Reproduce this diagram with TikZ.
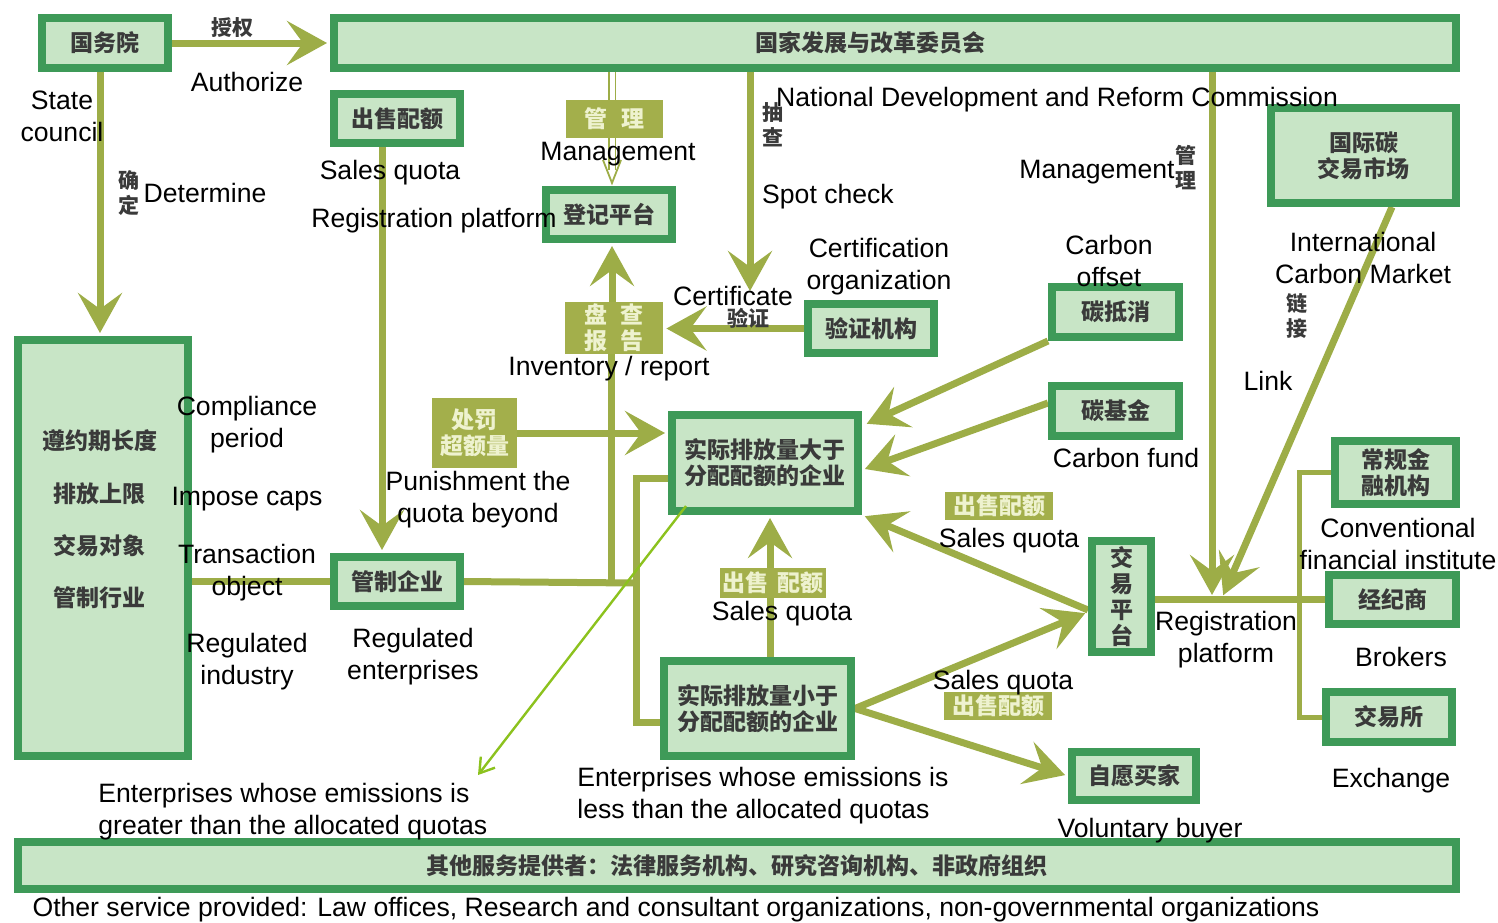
\documentclass[tikz,border=0pt]{standalone}
\usepackage{fontspec}
\setmainfont{Liberation Sans}
\newfontfamily\cjk{Noto Sans CJK SC}
\usetikzlibrary{arrows.meta}
\pgfdeclarelayer{background}
\pgfsetlayers{background,main}
\definecolor{dkgreen}{HTML}{3E9A58}
\definecolor{ltgreen}{HTML}{C8E5C6}
\definecolor{olive}{HTML}{9DAD47}
\definecolor{olivebox}{HTML}{A3AF4B}
\definecolor{paletext}{HTML}{EEF2CF}
\definecolor{limeline}{HTML}{8CC21E}
\definecolor{cjktext}{HTML}{3A3A3A}
\tikzset{
  gbox/.style 2 args={draw=dkgreen, fill=ltgreen, line width=4pt, inner sep=0pt,
    minimum width=#1*0.5pt-4pt, minimum height=#2*0.5pt-4pt, align=center,
    font=\cjk\bfseries\fontsize{11.5}{13}\selectfont, text=cjktext},
  obox/.style 2 args={fill=olivebox, inner sep=0pt, minimum width=#1*0.5pt,
    minimum height=#2*0.5pt, align=center,
    font=\cjk\bfseries\fontsize{11.5}{13}\selectfont, text=paletext},
  ctext/.style={inner sep=0pt, align=center, font=\cjk\bfseries\fontsize{11.5}{13}\selectfont, text=cjktext},
  cv/.style={inner sep=0pt, align=center, font=\cjk\bfseries\fontsize{10.5}{12.5}\selectfont, text=cjktext},
  en/.style={inner sep=0pt, align=center, font=\fontsize{13.3}{16}\selectfont, text=black, yshift=-1.5pt},
  conn/.style={draw=olive, line width=3.5pt},
  arr/.style={conn, -{Stealth[length=20pt,width=22pt,inset=8pt]}, shorten >=1.5pt},
  thinconn/.style={draw=olive, line width=2.5pt},
}
\begin{document}
\begin{tikzpicture}[x=0.5pt,y=-0.5pt]
\useasboundingbox (0,0) rectangle (1498,922);
% ---------- boxes ----------
\node[gbox={134}{58}] (gwy) at (105,43) {国务院};
\node[gbox={1130}{58}] (ndrc) at (895,43) {};
\node[ctext] (ndrct) at (870,43) {国家发展与改革委员会};
\node[gbox={134}{57}] (csq) at (397,118.5) {出售配额};
\node[gbox={134}{57}] (djpt) at (609,214.5) {登记平台};
\node[obox={97}{38}] (glb) at (614.5,119) {管\hspace{0.6em}理};
\node[obox={98}{52}] (pcbg) at (614,328) {盘\hspace{0.6em}查\\报\hspace{0.6em}告};
\node[gbox={134}{57}] (yzjg) at (871,328.5) {验证机构};
\node[obox={85}{70}] (cfb) at (474.5,433) {处罚\\超额量};
\node[gbox={178}{424}] (lb) at (103,548) {};
\node[ctext] (lb1) at (100,441) {遵约期长度};
\node[ctext] (lb2) at (100,494) {排放上限};
\node[ctext] (lb3) at (100,546) {交易对象};
\node[ctext] (lb4) at (100,598) {管制行业};
\node[gbox={134}{57}] (gzqy) at (397,581.5) {管制企业};
\node[gbox={194}{104}] (big) at (765,463) {实际排放量大于\\分配配额的企业};
\node[gbox={195}{103}] (small) at (757.5,708.5) {实际排放量小于\\分配配额的企业};
\node[obox={106}{30}] (sq1) at (773,583) {出售\hspace{0.4em}配额};
\node[gbox={135}{58}] (tdx) at (1115.5,312) {碳抵消};
\node[gbox={135}{58}] (tjj) at (1115.5,411) {碳基金};
\node[obox={108}{28}] (sq2) at (999,506) {出售配额};
\node[gbox={67}{119}] (jypt) at (1121.5,596.5) {交\\易\\平\\台};
\node[obox={108}{28}] (sq3) at (998,706) {出售配额};
\node[gbox={132}{56}] (zymj) at (1134,776) {自愿买家};
\node[gbox={193}{103}] (gjt) at (1363.5,155.5) {国际碳\\交易市场};
\node[gbox={129}{71}] (cgjr) at (1395.5,472.5) {常规金\\融机构};
\node[gbox={135}{57}] (jjs) at (1392.5,599.5) {经纪商};
\node[gbox={134}{58}] (jys) at (1389,717) {交易所};
\node[gbox={1446}{55}] (other) at (737,865.5) {其他服务提供者：法律服务机构、研究咨询机构、非政府组织};
% ---------- helper coordinates ----------
\coordinate (jx) at (636,583);
\coordinate (spot) at (750,294);
\coordinate (regj) at (1212,598);
\coordinate (brx) at (1299,600);
\coordinate (gs) at (686,506);
\coordinate (gt) at (478,775);
% ---------- connectors ----------
\begin{pgfonlayer}{background}
\draw[arr] (gwy.east) -- (ndrc.west |- gwy.east);
\draw[arr] ([xshift=-2.5pt]gwy.south) -- ([xshift=-2.5pt]gwy.south |- lb.north);
\draw[conn] (lb.east |- gzqy.west) -- (gzqy.west);
\draw[arr] ([xshift=-7.5pt]csq.south) -- ([xshift=-7.5pt]csq.south |- gzqy.north);
\draw[draw=olive, line width=0.9pt, double=white, double distance=2.5pt]
  ([xshift=1.5pt]djpt.north |- ndrc.south) -- ([xshift=1.5pt,yshift=8pt]djpt.north);
\draw[olive, line width=0.9pt] ([xshift=-3pt,yshift=13pt]djpt.north) -- ([xshift=1.5pt,yshift=1.5pt]djpt.north) -- ([xshift=6pt,yshift=13pt]djpt.north);
\draw[arr] ([xshift=1.5pt]djpt.south |- pcbg.north) -- ([xshift=1.5pt]djpt.south);
\draw[conn] ([xshift=1pt]djpt.south |- pcbg.south) -- ([xshift=1pt]djpt.south |- gzqy.east);
\draw[conn] (gzqy.east) -- (jx);
\draw[conn] ([yshift=-7.5pt]big.west) -| (jx) |- ([yshift=-6.75pt]small.west);
\draw[arr] (yzjg.west) -- (yzjg.west -| pcbg.east);
\draw[arr] (spot |- ndrc.south) -- (spot);
\draw[arr] (cfb.east) -- (cfb.east -| big.west);
\draw[arr] ([xshift=6.25pt]small.north) -- ([xshift=6.25pt]small.north |- big.south);
\draw[arr] (tdx.south west) -- ([xshift=1pt,yshift=19pt]big.east);
\draw[arr] ([yshift=4pt]tjj.west) -- ([yshift=-3.5pt]big.east);
\draw[arr] ([yshift=-6.75pt]jypt.west) -- (big.south east);
\draw[arr] (small.east) -- ([yshift=-7.75pt]jypt.west);
\draw[arr] (small.east) -- (zymj.west);
\draw[arr] (regj |- ndrc.south) -- (regj);
\draw[arr] ([xshift=14.25pt]gjt.south) -- ([xshift=5pt]regj);
\draw[conn] (jypt.east |- jjs.west) -- (jjs.west);
\draw[thinconn] (cgjr.west) -| (brx) |- (jys.west);
\end{pgfonlayer}
\draw[limeline, line width=1.2pt, -{Straight Barb[length=7pt,width=9pt]}] (gs) -- (gt);
% ---------- CJK labels ----------
\node[cv] (sq0) at (232,28) {授权};
\node[cv] (qd) at (129,193) {确\\定};
\node[cv] (cc) at (773,125) {抽\\查};
\node[cv] (yz) at (748,318) {验证};
\node[cv] (gl2) at (1186,168) {管\\理};
\node[cv] (lj) at (1297,316) {链\\接};
% ---------- English labels ----------
\node[en] (t1) at (247,79) {Authorize};
\node[en] (t2) at (62,113) {State\\council};
\node[en] (t3) at (205,190) {Determine};
\node[en] (t4) at (390,170) {Sales quota};
\node[en] (t5) at (434,218) {Registration platform};
\node[en] (t6) at (618,151) {Management};
\node[en] (t7) at (1057,97) {National Development and Reform Commission};
\node[en] (t8) at (828,194) {Spot check};
\node[en] (t9) at (1097,169) {Management};
\node[en] (t10) at (879,264) {Certification\\organization};
\node[en] (t11) at (733,293) {Certificate};
\node[en] (t12) at (1109,258) {Carbon\\offset};
\node[en] (t13) at (1363,255) {International\\Carbon Market};
\node[en] (t14) at (1268,378) {Link};
\node[en] (t15) at (609,366) {Inventory / report};
\node[en] (t16) at (247,422) {Compliance\\period};
\node[en] (t17) at (247,496) {Impose caps};
\node[en] (t18) at (247,570) {Transaction\\object};
\node[en] (t19) at (247,659) {Regulated\\industry};
\node[en] (t20) at (478,497) {Punishment the\\quota beyond};
\node[en] (t21) at (413,654) {Regulated\\enterprises};
\node[en] (t22) at (1126,455) {Carbon fund};
\node[en] (t23) at (1009,538) {Sales quota};
\node[en] (t24) at (782,611) {Sales quota};
\node[en] (t25) at (1003,680) {Sales quota};
\node[en] (t26) at (1226,637) {Registration\\platform};
\node[en] (t27) at (1398,541) {Conventional\\financial institute};
\node[en] (t28) at (1401,654) {Brokers};
\node[en] (t29) at (1391,778) {Exchange};
\node[en, align=left, anchor=west] (t30) at (98,809) {Enterprises whose emissions is\\greater than the allocated quotas};
\node[en, align=left, anchor=west] (t31) at (577,793) {Enterprises whose emissions is\\less than the allocated quotas};
\node[en] (t32) at (1150,828) {Voluntary buyer};
\node[en] (t33) at (676,907) {Other service provided: Law offices, Research and consultant organizations, non-governmental organizations};
\end{tikzpicture}
\end{document}
